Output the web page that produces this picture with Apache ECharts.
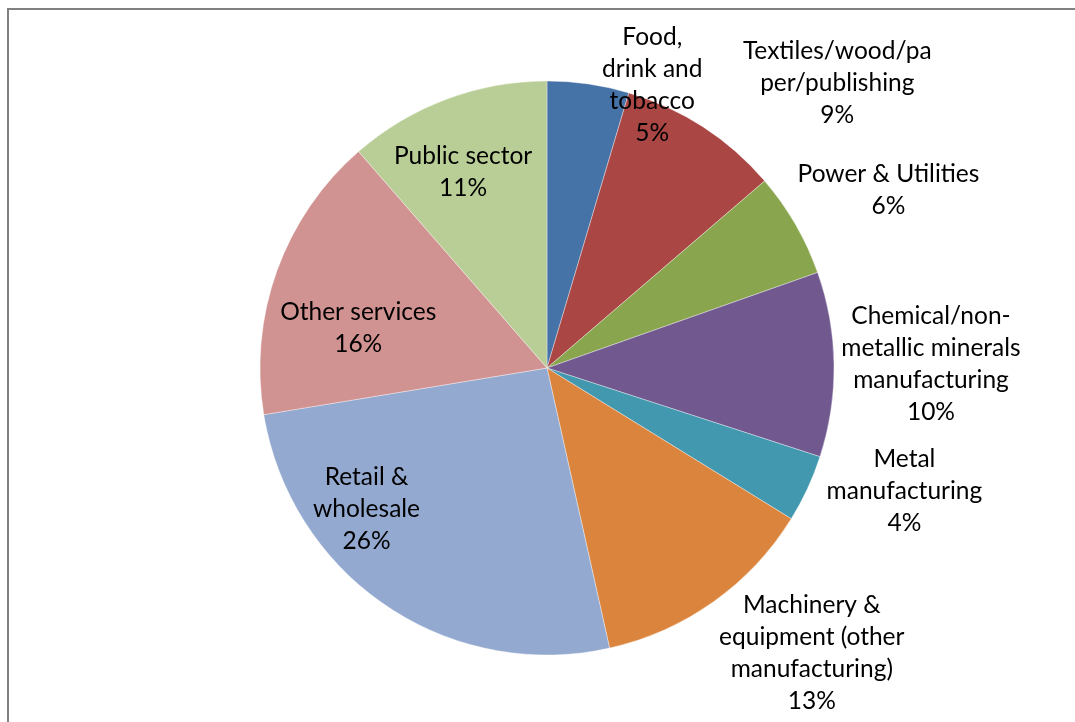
<!DOCTYPE html>
<html>
<head>
<meta charset="utf-8">
<script src="https://cdn.jsdelivr.net/npm/echarts@6/dist/echarts.min.js"></script>
<style>
html,body{margin:0;padding:0;background:#fff;}
#chart{width:1075px;height:722px;}
</style>
</head>
<body>
<div id="chart"></div>
<script>
// Categories and values (share of total, %)
var categories = [
  'Food, drink and tobacco',
  'Textiles/wood/paper/publishing',
  'Power & Utilities',
  'Chemical/non-metallic minerals manufacturing',
  'Metal manufacturing',
  'Machinery & equipment (other manufacturing)',
  'Retail & wholesale',
  'Other services',
  'Public sector'
];
var values = [4.6, 9.1, 5.9, 10.4, 3.8, 12.7, 25.9, 16.2, 11.4];
// Label text as wrapped in the reference
var labelTexts = [
  'Food,\ndrink and\ntobacco',
  'Textiles/wood/pa\nper/publishing',
  'Power & Utilities',
  'Chemical/non-\nmetallic minerals\nmanufacturing',
  'Metal\nmanufacturing',
  'Machinery &\nequipment (other\nmanufacturing)',
  'Retail &\nwholesale',
  'Other services',
  'Public sector'
];
var colors = ['#4572A7','#AA4643','#89A54E','#71588F','#4198AF','#DB843D','#93A9CF','#D19392','#B9CD96'];

// label placement (polar: degrees clockwise from top, distance from centre in px)
var labelAnchor = [
  [20.4, 302], [45.5, 407], [62.5, 385], [89.4, 384], [109, 378],
  [137.1, 389], [232, 229], [282, 193], [336.8, 213]
];
var CX = 547, CY = 368, R = 287;

var chart = echarts.init(document.getElementById('chart'));
var data = categories.map(function (c, i) {
  return { name: c, value: values[i], itemStyle: { color: colors[i] } };
});
chart.setOption({
  animation: false,
  graphic: [{
    type: 'rect',
    shape: { x: 8, y: 9, width: 1200, height: 900 },
    style: { fill: 'none', stroke: '#808080', lineWidth: 2 },
    silent: true
  }],
  series: [{
    type: 'pie',
    center: [CX, CY],
    radius: R,
    startAngle: 90,
    clockwise: true,
    avoidLabelOverlap: false,
    itemStyle: { borderColor: 'rgba(255,255,255,0.6)', borderWidth: 0.6 },
    emphasis: { disabled: true },
    label: {
      show: true,
      position: 'outside',
      color: '#000',
      fontFamily: 'Lato',
      fontSize: 24.5,
      lineHeight: 32,
      align: 'center',
      formatter: function (p) {
        return labelTexts[p.dataIndex] + '\n' + Math.round(p.percent) + '%';
      }
    },
    labelLine: { show: false },
    labelLayout: function (p) {
      var a = labelAnchor[p.dataIndex];
      var rad = a[0] * Math.PI / 180;
      return {
        x: CX + Math.sin(rad) * a[1],
        y: CY - Math.cos(rad) * a[1],
        align: 'center',
        verticalAlign: 'middle'
      };
    },
    data: data
  }]
});
</script>
</body>
</html>
